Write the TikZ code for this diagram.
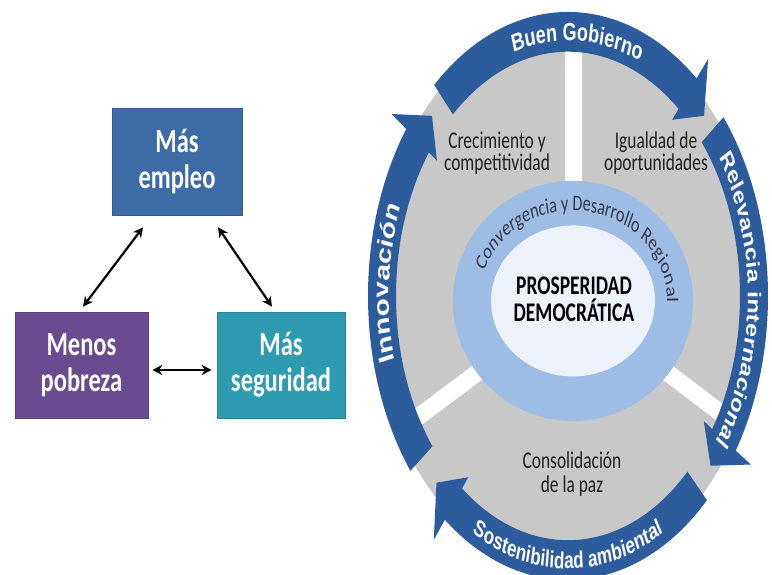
\documentclass[tikz,border=0pt]{standalone}
\usepackage{fontspec}
\setmainfont{Carlito}
\newfontfamily\boxfont[FakeStretch=0.725]{Carlito}
\newfontfamily\bandfont{Liberation Sans}
\usetikzlibrary{arrows.meta,decorations.text,calc}
\definecolor{empleoC}{HTML}{3C6BA6}
\definecolor{pobrezaC}{HTML}{694B90}
\definecolor{seguridadC}{HTML}{2E9BB0}
\definecolor{grayC}{HTML}{C8C8C8}
\definecolor{ringC}{HTML}{9DBDE4}
\definecolor{centerC}{HTML}{EDF2FA}
\definecolor{bandC}{HTML}{2C5C9C}
\definecolor{convC}{HTML}{33384A}
% tail angle, barb angle, tip angle (parametric, on the outer ellipse)
\newcommand\ringarrow[3]{%
  \fill[bandC] (#1:200 and 205.8) arc[start angle=#1, end angle=#2, x radius=200, y radius=205.8]
    -- (#2:218 and 224.3) -- (#3:186 and 191.4) -- (#2:162 and 166.7)
    -- (#2:172 and 177) arc[start angle=#2, end angle=#1, x radius=172, y radius=177] -- cycle;}
\begin{document}
\begin{tikzpicture}[x=1pt,y=1pt,
  boxnode/.style={draw=#1!85!black, line width=0.6pt, fill=#1, text=white,
    font=\boxfont\bfseries\fontsize{33.8}{36}\selectfont, align=center, inner sep=0pt},
  dblarrow/.style={{Stealth[length=10pt,width=10pt]}-{Stealth[length=10pt,width=10pt]}, line width=2.2pt, black},
  lbl/.style={align=center, inner sep=0pt, text=black!88},
  bandtext/.style 2 args={decorate, decoration={text along path, text align=center,
    text={|\bandfont\bfseries\fontsize{#2}{#2}\selectfont\color{white}|#1}}}]
\useasboundingbox (0,0) rectangle (772,575);
\fill[white] (0,0) rectangle (772,575);

% ---------- left triangle of boxes ----------
\node[boxnode=empleoC, minimum width=130pt, minimum height=107pt] (empleo) at (177,413.5) {Más\\empleo};
\node[boxnode=pobrezaC, minimum width=133pt, minimum height=106pt] (pobreza) at (81.5,210) {Menos\\pobreza};
\node[boxnode=seguridadC, minimum width=128pt, minimum height=106pt] (seguridad) at (281,210) {Más\\seguridad};
\draw[dblarrow] ([xshift=-34pt,yshift=-12pt]empleo.south) -- ([xshift=1.5pt,yshift=5pt]pobreza.north);
\draw[dblarrow] ([xshift=41pt,yshift=-12pt]empleo.south) -- ([xshift=-9pt,yshift=5pt]seguridad.north);
\draw[dblarrow] ([xshift=4pt,yshift=-5pt]pobreza.east) -- ([xshift=-5pt,yshift=-5pt]seguridad.west);

% ---------- right circular diagram ----------
\begin{scope}[transform canvas={yscale=1.38}]
  \coordinate (O) at (568,202.2);
  \coordinate (R) at (573,198.6);
  \fill[grayC] (O) ellipse [x radius=194, y radius=199.6];
  \draw[white, line width=17pt] (R) -- ++(90:200);
  \draw[white, line width=13.5pt] (R) -- ++(208.5:200);
  \draw[white, line width=13.5pt] (R) -- ++(-28.8:200);
  \fill[ringC] (R) ellipse [x radius=120, y radius=87];
  \fill[centerC] (R) ellipse [x radius=82, y radius=54.7];

  \node[lbl, font=\fontsize{17.4}{15.9}\selectfont] (crec) at (497,305.6) {Crecimiento y\\competitividad};
  \node[lbl, font=\fontsize{17.4}{15.9}\selectfont] (igual) at (656,305.6) {Igualdad de\\oportunidades};
  \node[lbl, font=\fontsize{17.4}{17.4}\selectfont] (paz) at (572,73.4) {Consolidación\\de la paz};
  \node[lbl, text=black, font=\bfseries\fontsize{19.5}{19.6}\selectfont] (pros) at (574,199.6) {PROSPERIDAD\\DEMOCRÁTICA};

  \path[decorate, decoration={text along path, text align=center,
      text={|\fontsize{16.2}{16.2}\selectfont\color{convC}|Convergencia y Desarrollo Regional}}]
    ($(R)+(170:94 and 65.5)$) arc[start angle=170, end angle=-10, x radius=94, y radius=65.5];

  \begin{scope}[shift={(568,202.2)}]
    \ringarrow{132}{50}{43}
    \ringarrow{39}{-33}{-40}
    \ringarrow{-46}{-128}{-135}
    \ringarrow{218}{144}{137}
    \path[bandtext={Buen Gobierno}{18}] (132:180 and 185.2) arc[start angle=132, end angle=42, x radius=180, y radius=185.2];
    \path[bandtext={Relevancia internacional}{18.5}] (44:180 and 185.2) arc[start angle=44, end angle=-46, x radius=180, y radius=185.2];
    \path[bandtext={Innovación}{21.5}] (222:179 and 184.2) arc[start angle=222, end angle=132, x radius=179, y radius=184.2];
    \path[bandtext={Sostenibilidad ambiental}{17}] (225:192 and 197.6) arc[start angle=225, end angle=315, x radius=192, y radius=197.6];
  \end{scope}
\end{scope}
\end{tikzpicture}
\end{document}
